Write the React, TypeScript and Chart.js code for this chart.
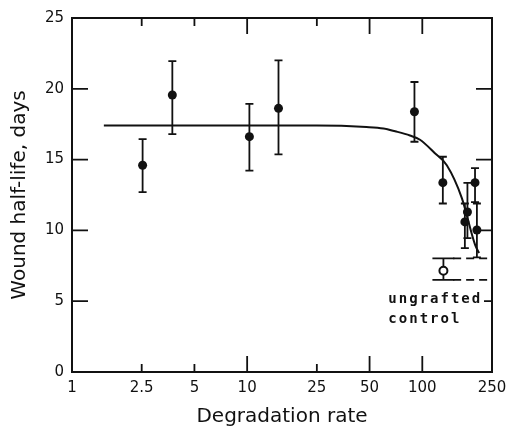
import React, { useEffect, useRef } from "react";
import { Chart, registerables } from "chart.js";

Chart.register(...registerables);

// ---- data ----
const xTicks = [1, 2.5, 5, 10, 25, 50, 100, 250];
const xMajorTicks = [10, 50, 100];
const yTicks = [0, 5, 10, 15, 20, 25];

const rates = [2.53, 3.74, 10.3, 15.1, 90.2, 131, 175, 181, 200, 205];
const halfLives = [14.6, 19.56, 16.62, 18.62, 18.38, 13.37, 10.6, 11.3, 13.37, 10.03];
const errLow = [12.7, 16.8, 14.22, 15.37, 16.26, 11.9, 8.75, 9.45, 12.0, 8.1];
const errHigh = [16.45, 21.96, 18.93, 22.01, 20.48, 15.2, 11.9, 13.35, 14.4, 11.9];

const fitRates = [1.52, 5, 10, 25, 48, 60, 70, 85, 97, 118, 138, 168, 200, 211];
const fitHalfLives = [17.4, 17.4, 17.4, 17.4, 17.3, 17.2, 17.0, 16.7, 16.4, 15.45, 14.6, 12.3, 9.0, 8.4];

const controlRate = [132];
const controlHalfLife = [7.15];
const controlLow = [6.5];
const controlHigh = [8.03];
const controlBandRates = [150, 250];

const noteLines = ["ungrafted", "control"];
const noteRate = 64;
const noteHalfLives = [4.87, 3.46];

const INK = "#111";

const errorBarPlugin = {
  id: "errorBars",
  beforeDatasetsDraw(chart: any) {
    const { ctx } = chart;
    const xs = chart.scales.x;
    const ys = chart.scales.y;
    ctx.save();
    ctx.strokeStyle = INK;
    ctx.lineWidth = 1.8;
    const bar = (xv: number, lo: number, hi: number, half: number) => {
      const px = xs.getPixelForValue(xv);
      const pl = ys.getPixelForValue(lo);
      const ph = ys.getPixelForValue(hi);
      ctx.beginPath();
      ctx.moveTo(px, pl);
      ctx.lineTo(px, ph);
      ctx.moveTo(px - half, pl);
      ctx.lineTo(px + half, pl);
      ctx.moveTo(px - half, ph);
      ctx.lineTo(px + half, ph);
      ctx.stroke();
    };
    rates.forEach((r, i) => bar(r, errLow[i], errHigh[i], 4));
    controlRate.forEach((r, i) => bar(r, controlLow[i], controlHigh[i], 11));
    ctx.restore();
  },
};

const framePlugin = {
  id: "frame",
  afterDraw(chart: any) {
    const { ctx, chartArea: a } = chart;
    const xs = chart.scales.x;
    const ys = chart.scales.y;
    ctx.save();
    ctx.strokeStyle = INK;
    ctx.lineWidth = 2;
    ctx.strokeRect(a.left, a.top, a.right - a.left, a.bottom - a.top);
    ctx.lineWidth = 1.8;
    ctx.beginPath();
    xTicks.forEach((v) => {
      if (v === xTicks[0] || v === xTicks[xTicks.length - 1]) return;
      const px = xs.getPixelForValue(v);
      const len = xMajorTicks.includes(v) ? 16 : 8;
      ctx.moveTo(px, a.bottom);
      ctx.lineTo(px, a.bottom - len);
      ctx.moveTo(px, a.top);
      ctx.lineTo(px, a.top + len);
    });
    yTicks.forEach((v) => {
      if (v === yTicks[0] || v === yTicks[yTicks.length - 1]) return;
      const py = ys.getPixelForValue(v);
      ctx.moveTo(a.left, py);
      ctx.lineTo(a.left + 16, py);
      ctx.moveTo(a.right, py);
      ctx.lineTo(a.right - (v <= 5 ? 8 : v <= 10 ? 12 : 16), py);
    });
    ctx.stroke();

    // annotation
    ctx.fillStyle = INK;
    ctx.font = "bold 14px 'DejaVu Sans Mono'";
    (ctx as any).letterSpacing = "2px";
    ctx.textAlign = "left";
    ctx.textBaseline = "alphabetic";
    noteLines.forEach((t, i) => {
      ctx.fillText(t, xs.getPixelForValue(noteRate), ys.getPixelForValue(noteHalfLives[i]));
    });
    ctx.restore();
  },
};

export default function App() {
  const ref = useRef<HTMLCanvasElement | null>(null);

  useEffect(() => {
    if (!ref.current) return;
    Chart.defaults.font.family = "'DejaVu Sans', sans-serif";
    Chart.defaults.color = INK;
    const chart = new Chart(ref.current, {
      type: "scatter",
      data: {
        datasets: [
          {
            label: "fit",
            data: fitRates.map((x, i) => ({ x, y: fitHalfLives[i] })),
            showLine: true,
            borderColor: INK,
            borderWidth: 2,
            pointRadius: 0,
            cubicInterpolationMode: "monotone",
            order: 3,
          } as any,
          {
            label: "band high",
            data: controlBandRates.map((x) => ({ x, y: controlHigh[0] })),
            showLine: true,
            borderColor: INK,
            borderWidth: 1.8,
            borderDash: [8, 5],
            pointRadius: 0,
            order: 3,
          },
          {
            label: "band low",
            data: controlBandRates.map((x) => ({ x, y: controlLow[0] })),
            showLine: true,
            borderColor: INK,
            borderWidth: 1.8,
            borderDash: [8, 5],
            pointRadius: 0,
            order: 3,
          },
          {
            label: "grafts",
            data: rates.map((x, i) => ({ x, y: halfLives[i] })),
            pointRadius: 4.5,
            backgroundColor: INK,
            borderColor: INK,
            borderWidth: 0,
            order: 1,
          },
          {
            label: "ungrafted control",
            data: controlRate.map((x, i) => ({ x, y: controlHalfLife[i] })),
            pointRadius: 4,
            backgroundColor: "#fff",
            borderColor: INK,
            borderWidth: 2,
            order: 1,
          },
        ],
      },
      options: {
        animation: false,
        responsive: true,
        maintainAspectRatio: false,
        layout: { padding: { top: 18, right: 16, left: 0, bottom: 0 } },
        plugins: { legend: { display: false }, tooltip: { enabled: false } },
        scales: {
          x: {
            type: "logarithmic",
            position: "bottom",
            min: 1,
            max: 250,
            grid: { display: false, drawTicks: false },
            border: { display: false },
            afterBuildTicks: (s: any) => {
              s.ticks = xTicks.map((v) => ({ value: v }));
            },
            afterFit: (s: any) => {
              s.height = 57;
              s.paddingLeft = 0;
              s.paddingRight = 0;
            },
            ticks: {
              autoSkip: false,
              maxRotation: 0,
              padding: 7,
              font: { size: 15 },
              color: INK,
              callback: (v: any) => String(v),
            },
            title: {
              display: true,
              text: "Degradation rate",
              font: { size: 20 },
              color: INK,
              padding: { top: 0, bottom: 0 },
            },
          },
          y: {
            type: "linear",
            position: "left",
            min: 0,
            max: 25,
            grid: { display: false, drawTicks: false },
            border: { display: false },
            afterBuildTicks: (s: any) => {
              s.ticks = yTicks.map((v) => ({ value: v }));
            },
            afterFit: (s: any) => {
              s.width = 72;
              s.paddingTop = 0;
              s.paddingBottom = 0;
            },
            ticks: {
              padding: 8,
              font: { size: 15 },
              color: INK,
            },
            title: {
              display: true,
              text: "Wound half-life, days",
              font: { size: 20 },
              color: INK,
              padding: { top: 8, bottom: 0 },
            },
          },
        },
      },
      plugins: [errorBarPlugin, framePlugin],
    });
    return () => chart.destroy();
  }, []);

  return (
    <div style={{ position: "absolute", left: 0, top: 0, width: 508, height: 429, background: "#fff" }}>
      <canvas ref={ref} />
    </div>
  );
}
